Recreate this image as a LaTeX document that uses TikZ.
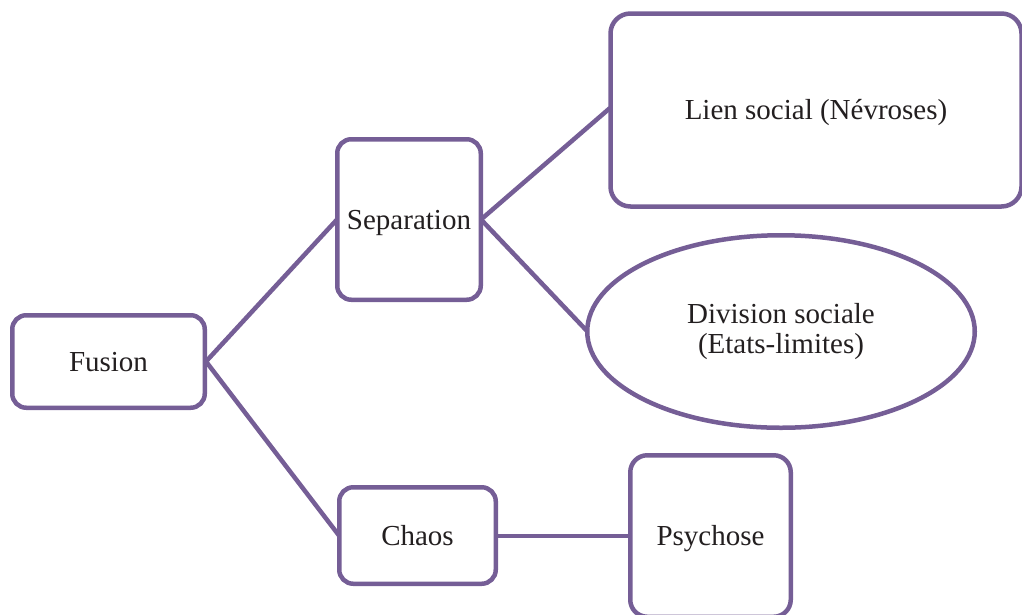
\documentclass[tikz,border=0pt]{standalone}
\usepackage{fontspec}
\setmainfont{Liberation Serif}
\usetikzlibrary{shapes.geometric}
\definecolor{plum}{RGB}{117,94,150}
\definecolor{ink}{RGB}{35,31,32}
\tikzset{
  box/.style={draw=plum, line width=4.5pt, rounded corners=14pt, fill=white,
    inner sep=0pt, text=ink, font=\fontsize{29}{30}\selectfont,
    text height=19pt, text depth=0pt},
  oval/.style={draw=plum, line width=4.5pt, ellipse, fill=white,
    inner sep=0pt, text=ink, font=\fontsize{29}{30}\selectfont, align=center},
  link/.style={draw=plum, line width=4.5pt}
}
\begin{document}
\begin{tikzpicture}[x=1pt,y=-1pt]
  \useasboundingbox (0,0) rectangle (1022,614);
  \begin{scope}
    \clip (0,0) rectangle (1022,614);
    % connectors first, boxes drawn over their ends
    \coordinate (fE) at (206,361.5);
    \coordinate (sW) at (337,219.5);
    \coordinate (sE) at (481,219.5);
    \coordinate (lW) at (610,108);
    \coordinate (eW) at (587,331);
    \coordinate (cW) at (339,535.5);
    \coordinate (cE) at (496,536);
    \coordinate (pW) at (630,536);
    \draw[link] (fE) -- (sW);
    \draw[link] (fE) -- (cW);
    \draw[link] (sE) -- (lW);
    \draw[link] (sE) -- (eW);
    \draw[link] (cE) -- (pW);

    \node[box, minimum width=192.5pt, minimum height=92.5pt] (fusion) at (108.5,361.5) {Fusion};
    \node[box, minimum width=143.5pt, minimum height=160.5pt] (sep) at (409,219.5) {Separation};
    \node[box, rounded corners=20pt, minimum width=411pt, minimum height=193pt] (lien) at (816,110) {Lien social (Névroses)};
    \node[oval, minimum width=387.5pt, minimum height=192.5pt] (div) at (781,331.5) {Division sociale\\(Etats-limites)};
    \node[box, minimum width=156.5pt, minimum height=96.5pt] (chaos) at (417.5,535.5) {Chaos};
    \node[box, rounded corners=17pt, minimum width=160.5pt, minimum height=161.5pt] (psy) at (710.5,536) {Psychose};
  \end{scope}
\end{tikzpicture}
\end{document}
